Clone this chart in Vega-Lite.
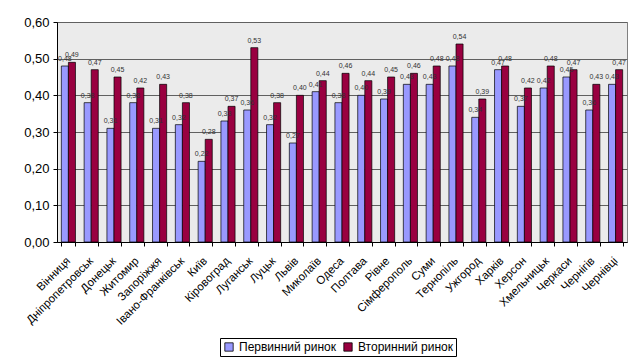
{
  "$schema": "https://vega.github.io/schema/vega-lite/v6.json",
  "autosize": "none",
  "width": 570,
  "height": 220,
  "padding": {"left": 57, "top": 22, "right": 7, "bottom": 116},
  "background": "white",
  "config": {
    "locale": {"number": {"decimal": ",", "thousands": " ", "grouping": [3], "currency": ["", ""]}},
    "view": {"fill": "#ebebeb", "stroke": "#808080", "strokeWidth": 1},
    "font": "Liberation Sans"
  },
  "data": {
    "values": [
      {"city": "Вінниця", "market": "Первинний ринок", "value": 0.48},
      {"city": "Вінниця", "market": "Вторинний ринок", "value": 0.49},
      {"city": "Дніпропетровськ", "market": "Первинний ринок", "value": 0.38},
      {"city": "Дніпропетровськ", "market": "Вторинний ринок", "value": 0.47},
      {"city": "Донецьк", "market": "Первинний ринок", "value": 0.31},
      {"city": "Донецьк", "market": "Вторинний ринок", "value": 0.45},
      {"city": "Житомир", "market": "Первинний ринок", "value": 0.38},
      {"city": "Житомир", "market": "Вторинний ринок", "value": 0.42},
      {"city": "Запоріжжя", "market": "Первинний ринок", "value": 0.31},
      {"city": "Запоріжжя", "market": "Вторинний ринок", "value": 0.43},
      {"city": "Івано-Франківськ", "market": "Первинний ринок", "value": 0.32},
      {"city": "Івано-Франківськ", "market": "Вторинний ринок", "value": 0.38},
      {"city": "Київ", "market": "Первинний ринок", "value": 0.22},
      {"city": "Київ", "market": "Вторинний ринок", "value": 0.28},
      {"city": "Кіровоград", "market": "Первинний ринок", "value": 0.33},
      {"city": "Кіровоград", "market": "Вторинний ринок", "value": 0.37},
      {"city": "Луганськ", "market": "Первинний ринок", "value": 0.36},
      {"city": "Луганськ", "market": "Вторинний ринок", "value": 0.53},
      {"city": "Луцьк", "market": "Первинний ринок", "value": 0.32},
      {"city": "Луцьк", "market": "Вторинний ринок", "value": 0.38},
      {"city": "Львів", "market": "Первинний ринок", "value": 0.27},
      {"city": "Львів", "market": "Вторинний ринок", "value": 0.40},
      {"city": "Миколаїв", "market": "Первинний ринок", "value": 0.41},
      {"city": "Миколаїв", "market": "Вторинний ринок", "value": 0.44},
      {"city": "Одеса", "market": "Первинний ринок", "value": 0.38},
      {"city": "Одеса", "market": "Вторинний ринок", "value": 0.46},
      {"city": "Полтава", "market": "Первинний ринок", "value": 0.40},
      {"city": "Полтава", "market": "Вторинний ринок", "value": 0.44},
      {"city": "Рівне", "market": "Первинний ринок", "value": 0.39},
      {"city": "Рівне", "market": "Вторинний ринок", "value": 0.45},
      {"city": "Сімферополь", "market": "Первинний ринок", "value": 0.43},
      {"city": "Сімферополь", "market": "Вторинний ринок", "value": 0.46},
      {"city": "Суми", "market": "Первинний ринок", "value": 0.43},
      {"city": "Суми", "market": "Вторинний ринок", "value": 0.48},
      {"city": "Тернопіль", "market": "Первинний ринок", "value": 0.48},
      {"city": "Тернопіль", "market": "Вторинний ринок", "value": 0.54},
      {"city": "Ужгород", "market": "Первинний ринок", "value": 0.34},
      {"city": "Ужгород", "market": "Вторинний ринок", "value": 0.39},
      {"city": "Харків", "market": "Первинний ринок", "value": 0.47},
      {"city": "Харків", "market": "Вторинний ринок", "value": 0.48},
      {"city": "Херсон", "market": "Первинний ринок", "value": 0.37},
      {"city": "Херсон", "market": "Вторинний ринок", "value": 0.42},
      {"city": "Хмельницьк", "market": "Первинний ринок", "value": 0.42},
      {"city": "Хмельницьк", "market": "Вторинний ринок", "value": 0.48},
      {"city": "Черкаси", "market": "Первинний ринок", "value": 0.45},
      {"city": "Черкаси", "market": "Вторинний ринок", "value": 0.47},
      {"city": "Чернігів", "market": "Первинний ринок", "value": 0.36},
      {"city": "Чернігів", "market": "Вторинний ринок", "value": 0.43},
      {"city": "Чернівці", "market": "Первинний ринок", "value": 0.43},
      {"city": "Чернівці", "market": "Вторинний ринок", "value": 0.47}
    ]
  },
  "encoding": {
    "x": {
      "field": "city", "type": "nominal", "sort": null, "title": null,
      "scale": {"paddingInner": 0.38, "paddingOuter": 0.19},
      "axis": {
        "labelAngle": -45, "labelAlign": "right", "labelBaseline": "middle",
        "labelFontSize": 11.5, "labelColor": "#000", "labelPadding": 13,
        "tickBand": "extent", "tickColor": "#000", "tickSize": 4,
        "domainColor": "#000", "grid": false
      }
    },
    "xOffset": {"field": "market", "type": "nominal", "sort": ["Первинний ринок", "Вторинний ринок"], "scale": {"paddingInner": 0, "paddingOuter": 0}},
    "y": {
      "field": "value", "type": "quantitative", "title": null,
      "scale": {"domain": [0, 0.6], "nice": false, "zero": true},
      "axis": {
        "values": [0, 0.1, 0.2, 0.3, 0.4, 0.5, 0.6], "format": ".2f",
        "labelFontSize": 13, "labelColor": "#000", "labelPadding": 4,
        "tickColor": "#000", "tickSize": 4, "domainColor": "#000",
        "gridColor": "#606060", "gridWidth": 1
      }
    }
  },
  "layer": [
    {
      "mark": {"type": "bar", "stroke": "#000", "strokeWidth": 0.7},
      "encoding": {
        "color": {
          "field": "market", "type": "nominal", "title": null,
          "scale": {"domain": ["Первинний ринок", "Вторинний ринок"], "range": ["#9999ff", "#990040"]},
          "legend": {
            "orient": "none", "direction": "horizontal", "legendX": 163, "legendY": 316,
            "symbolType": "square", "symbolSize": 70, "symbolStrokeColor": "#000", "symbolStrokeWidth": 0.8,
            "labelFontSize": 12, "labelColor": "#000", "columnPadding": 6, "symbolOffset": 0,
            "strokeColor": "#000", "padding": 3, "fillColor": "white", "labelOffset": 4
          }
        }
      }
    },
    {
      "mark": {"type": "text", "baseline": "bottom", "dy": -4, "fontSize": 7, "color": "#333"},
      "encoding": {
        "text": {"field": "value", "type": "quantitative", "format": ".2f"}
      }
    }
  ]
}
